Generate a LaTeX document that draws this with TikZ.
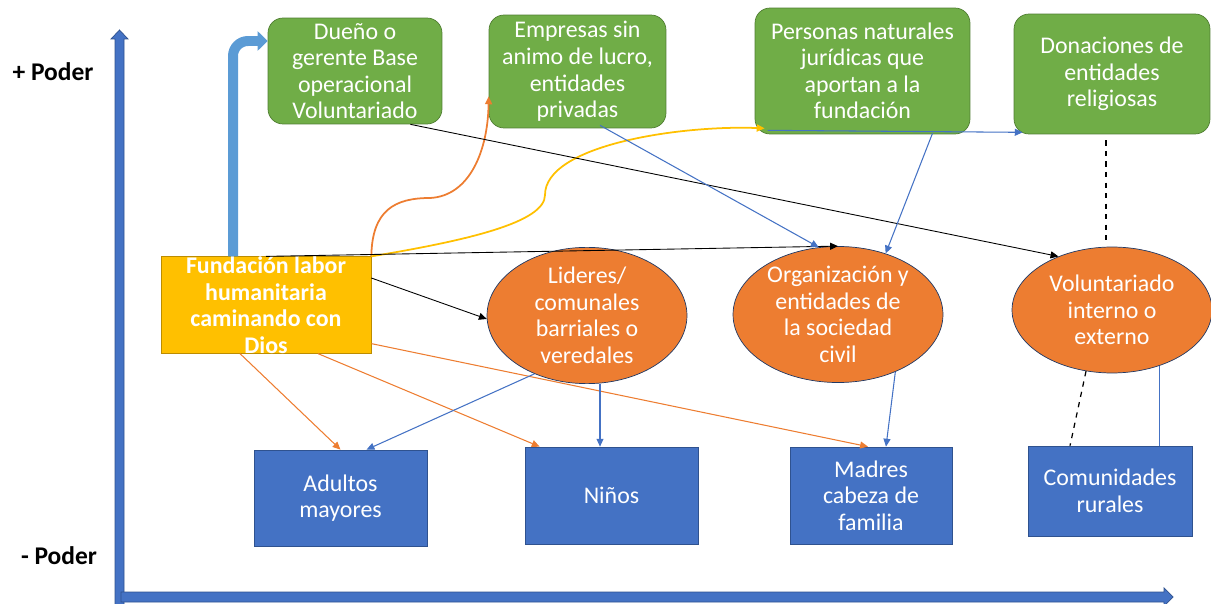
\documentclass[tikz,border=0pt]{standalone}
\usepackage{fontspec}
\setmainfont{Carlito}
\usetikzlibrary{arrows.meta}
\usetikzlibrary{shapes.geometric}

\definecolor{verde}{HTML}{70AD47}
\definecolor{verdeborde}{HTML}{507E32}
\definecolor{naranja}{HTML}{ED7D31}
\definecolor{naranjaborde}{HTML}{AE5A21}
\definecolor{amarillo}{HTML}{FFC000}
\definecolor{amarilloborde}{HTML}{BC8C00}
\definecolor{azul}{HTML}{4472C4}
\definecolor{azulborde}{HTML}{2F528F}
\definecolor{celeste}{HTML}{5B9BD5}

\tikzset{
	texto/.style={inner sep=0pt, align=center, text=white, font=\fontsize{13.6}{15.1}\selectfont},
	verdebox/.style={texto, rectangle, rounded corners=0.3cm, fill=verde, draw=verdeborde},
	fundbox/.style={texto, rectangle, fill=amarillo, draw=amarilloborde, font=\fontsize{13.6}{15.1}\selectfont\bfseries},
	ovalo/.style={texto, ellipse, fill=naranja, draw=azulborde!70!black},
	azulbox/.style={texto, rectangle, fill=azul, draw=azulborde},
	poder/.style={font=\fontsize{14.5}{16}\selectfont\bfseries},
	punta/.style={-{Triangle[length=4.5pt,width=4pt]}},
	negra/.style={punta, black, line width=0.5pt},
	azulflecha/.style={punta, azul, line width=0.6pt},
	naranjaflecha/.style={punta, naranja, line width=0.6pt},
}

\begin{document}
\begin{tikzpicture}[x=0.02cm, y=-0.02cm]

		\useasboundingbox (0,0) rectangle (1211,604);

		\fill[azul, draw=azulborde] (115,606) -- (115,39) -- (111,39) -- (119.5,30) -- (128,39) -- (124,39) -- (124,606) -- cycle;
		\fill[azul, draw=azulborde] (121,592) -- (1164,592) -- (1164,588) -- (1173,597) -- (1164,606) -- (1164,602) -- (121,602) -- cycle;

		\node[poder] (mas) at (53,72) {+ Poder};
		\node[poder] (menos) at (59,556) {- Poder};

		\node[verdebox, minimum width=3.48cm, minimum height=2.12cm] (due) at (355,71) {Dueño o\\gerente Base\\operacional\\Voluntariado};
		\node[verdebox, minimum width=3.54cm, minimum height=2.26cm] (emp) at (577.5,71.5) {Empresas sin\\animo de lucro,\\entidades\\privadas};
		\node[verdebox, minimum width=4.3cm, minimum height=2.52cm] (per) at (862.5,71) {Personas naturales\\jurídicas que\\aportan a la\\fundación};
		\node[verdebox, minimum width=3.92cm, minimum height=2.4cm] (don) at (1112,74) {Donaciones de\\entidades\\religiosas};

		\node[fundbox, minimum width=4.2cm, minimum height=1.88cm] (fund) at (266,305) {Fundación labor\\humanitaria\\caminando con\\Dios};

		\node[ovalo, minimum width=4.0cm, minimum height=2.3cm] (lid) at (587,315.5) {Lideres/\\comunales\\barriales o\\veredales};
		\node[ovalo, minimum width=4.2cm, minimum height=2.52cm] (org) at (838,314.5) {Organización y\\entidades de\\la sociedad\\civil};
		\node[ovalo, minimum width=4.0cm, minimum height=2.52cm] (vol) at (1112,310) {Voluntariado\\interno o\\externo};

		\node[azulbox, minimum width=3.46cm, minimum height=1.92cm] (adu) at (340.5,498) {Adultos\\mayores};
		\node[azulbox, minimum width=3.46cm, minimum height=1.94cm] (nin) at (611.5,495.5) {Niños};
		\node[azulbox, minimum width=3.24cm, minimum height=1.94cm] (mad) at (871,495.5) {Madres\\cabeza de\\familia};
		\node[azulbox, minimum width=3.28cm, minimum height=1.8cm] (com) at (1110,491) {Comunidades\\rurales};

		\draw[celeste, line width=0.2cm, rounded corners=0.3cm, -{Triangle[length=0.2cm,width=0.38cm]}] ([xshift=-0.66cm]fund.north) |- ([yshift=0.6cm]due.west);

		\draw[naranjaflecha, line width=1pt] (fund.north east) .. controls (372,210) and (395,198) .. (430,198) .. controls (470,196) and (488,150) .. ([yshift=0.64cm]emp.south west);
		\draw[punta, amarillo, line width=1pt] (fund.north east) .. controls (470,240) and (545,222) .. (545,195) .. controls (545,145) and (680,125) .. ([xshift=0.2cm,yshift=0.12cm]per.south west);

		\draw[negra] (fund.north) -- (org.north);
		\draw[negra] ([yshift=0.54cm]fund.east) -- (lid.182);
		\draw[negra] ([xshift=-0.64cm]due.south east) -- (vol.135);

		\draw[azulflecha] ([xshift=0.45cm,yshift=0.06cm]emp.south) -- (org.106);
		\draw[azulflecha] ([xshift=1.4cm,yshift=0.02cm]per.south) -- (org.52);
		\draw[azulflecha] ([xshift=0.26cm,yshift=0.08cm]per.south west) -- ([xshift=0.18cm,yshift=0.04cm]don.south west);

		\draw[black, dashed, line width=0.7pt] ([xshift=-0.12cm,yshift=-0.12cm]don.south) -- ([xshift=-0.12cm,yshift=0.1cm]vol.north);
		\draw[black, dashed, line width=0.7pt] (vol.247) -- ([xshift=-0.8cm]com.north);
		\draw[azul, line width=0.5pt] (vol.-50) -- (vol.-50 |- com.north);

		\draw[naranjaflecha] ([xshift=-0.52cm]fund.south) -- (adu.north);
		\draw[naranjaflecha] ([xshift=1.04cm]fund.south) -- ([xshift=0.3cm]nin.north west);
		\draw[naranjaflecha] ([yshift=0.2cm]fund.south east) -- ([xshift=-0.06cm]mad.north);

		\draw[azulflecha] (lid.228) -- ([xshift=0.52cm]adu.north);
		\draw[azulflecha] ([xshift=0.26cm]lid.south) -- ([xshift=0.26cm]lid.south |- nin.north);
		\draw[azulflecha] (org.-45) -- ([xshift=0.3cm]mad.north);

	\end{tikzpicture}
\end{document}
